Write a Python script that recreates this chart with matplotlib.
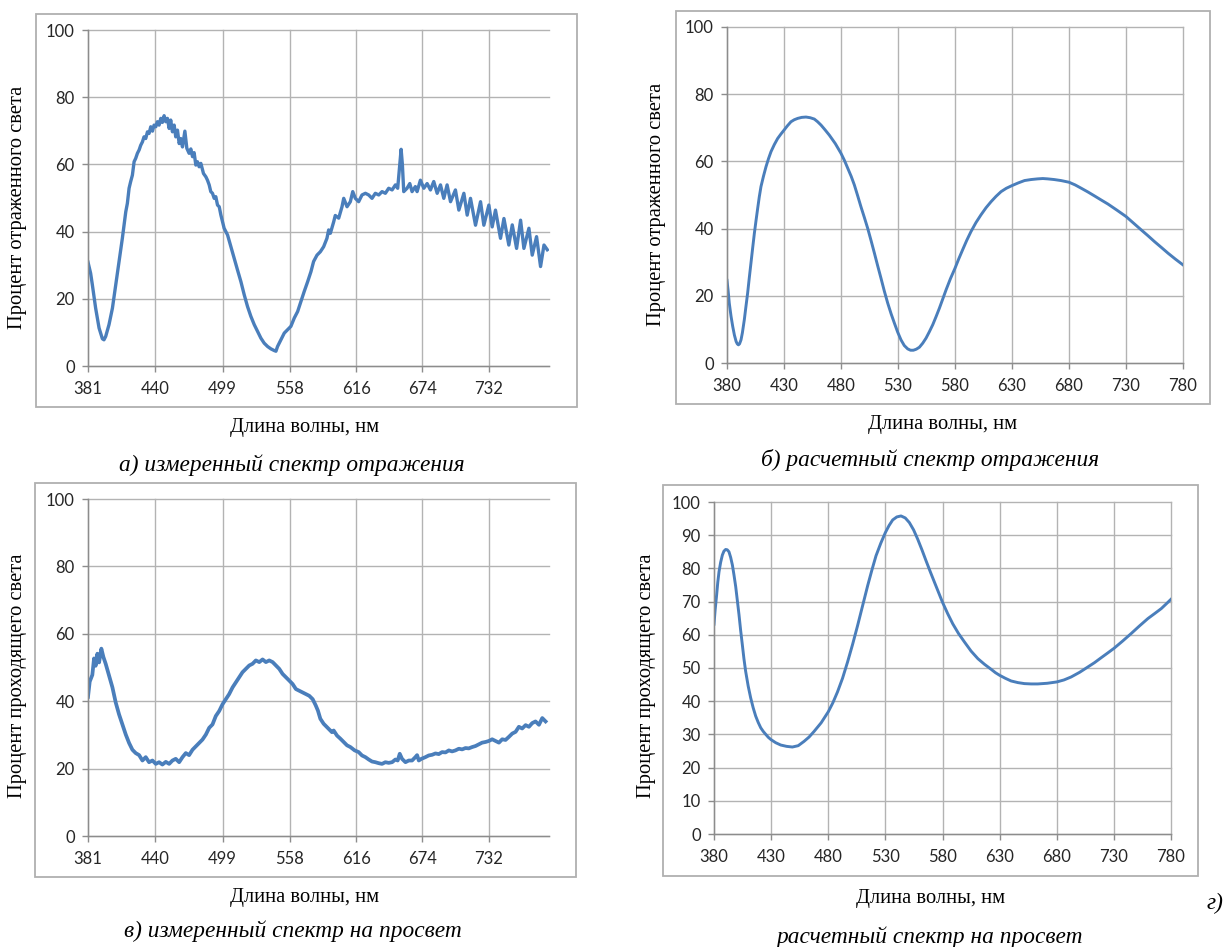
import matplotlib
matplotlib.use("Agg")
import matplotlib.pyplot as plt
from matplotlib.patches import Rectangle

# ---------------- data ----------------
# а) measured reflection spectrum
wl_refl_meas = [381.0, 383.3, 384.8, 387.7, 390.7, 393.6, 395.0, 396.5, 399.4, 402.4,
                405.3, 408.2, 411.1, 414.1, 415.5, 417.0, 418.4, 419.9, 421.4, 422.8,
                424.3, 425.8, 427.2, 428.7, 430.1, 431.6, 433.1, 434.5, 436.0, 437.5,
                438.9, 440.4, 441.8, 443.3, 444.8, 446.2, 447.7, 449.2, 450.6, 452.1,
                453.5, 455.0, 456.5, 457.9, 459.4, 460.9, 462.3, 463.8, 465.9, 467.6,
                469.6, 471.1, 472.6, 474.0, 475.5, 476.9, 478.4, 479.9, 482.2, 484.3,
                485.7, 487.2, 488.6, 490.1, 491.6, 493.0, 494.5, 496.0, 497.4, 498.9,
                500.3, 503.3, 506.2, 509.1, 512.0, 515.0, 517.9, 520.8, 523.7, 526.7,
                529.6, 532.5, 535.4, 538.4, 541.3, 544.2, 545.7, 547.1, 550.1, 553.0,
                555.9, 558.8, 561.8, 564.7, 567.6, 570.5, 573.5, 576.4, 578.7, 581.7,
                584.6, 587.5, 590.4, 591.9, 593.4, 596.3, 597.7, 600.7, 603.6, 605.1,
                608.0, 610.9, 613.0, 615.3, 618.2, 621.1, 624.1, 627.0, 629.9, 632.8,
                635.8, 638.7, 641.6, 644.5, 647.5, 650.4, 652.4, 654.2, 655.4, 656.5,
                657.7, 660.6, 663.0, 665.0, 667.9, 669.4, 672.3, 675.3, 678.2, 681.1,
                684.0, 687.0, 689.9, 692.8, 695.7, 698.7, 703.0, 706.0, 710.4, 713.3,
                716.2, 720.6, 725.0, 727.9, 732.3, 735.2, 738.1, 742.5, 745.5, 749.8,
                752.8, 756.6, 760.1, 763.0, 767.4, 770.3, 774.1, 777.6, 780.6, 783.5]
refl_meas = [30.9, 27.6, 24.2, 17.2, 11.3, 8.1, 7.8, 8.8, 12.3, 17.2,
             24.2, 31.1, 38.0, 45.9, 48.4, 52.9, 54.9, 56.8, 60.8, 61.8,
             63.3, 64.3, 65.7, 66.7, 68.2, 67.7, 69.7, 69.2, 71.2, 69.9,
             71.7, 71.2, 72.7, 71.7, 73.7, 72.5, 74.5, 72.7, 73.7, 70.7,
             73.2, 69.7, 71.7, 68.2, 70.2, 66.2, 67.7, 65.2, 69.9, 64.8,
             63.3, 64.6, 62.3, 63.5, 59.8, 60.8, 59.3, 60.3, 57.3, 56.3,
             55.3, 53.9, 51.9, 51.4, 49.9, 50.4, 47.9, 47.4, 45.0, 43.0,
             41.0, 39.0, 35.5, 32.1, 28.6, 25.1, 21.2, 17.7, 14.8, 12.3,
             10.3, 8.3, 6.8, 5.8, 5.1, 4.6, 4.4, 5.8, 7.8, 9.8,
             10.8, 11.8, 14.3, 16.2, 19.2, 22.2, 25.1, 28.1, 31.1, 33.0,
             34.0, 35.5, 38.0, 40.5, 39.5, 42.9, 44.8, 44.0, 47.4, 49.9,
             47.4, 48.9, 51.9, 49.9, 48.9, 50.9, 51.4, 50.9, 49.9, 51.4,
             50.9, 51.9, 51.4, 52.9, 52.4, 53.9, 52.9, 60.0, 64.5, 60.0,
             51.9, 52.9, 54.3, 51.9, 53.4, 51.9, 55.3, 52.9, 54.3, 52.4,
             54.9, 51.4, 53.9, 49.9, 53.9, 48.9, 52.4, 46.4, 51.4, 44.9,
             49.9, 41.9, 48.9, 41.9, 47.9, 41.4, 46.4, 38.0, 43.9, 36.0,
             42.0, 35.0, 43.4, 35.0, 41.0, 33.0, 38.5, 29.6, 36.0, 34.6]

# б) calculated reflection spectrum
wl_refl_calc = [380, 381, 382, 383.5, 385, 386.5, 388, 389, 390, 391,
                392.3, 393.5, 395.2, 396.5, 398.1, 399.5, 401, 402.5, 404, 405.5,
                406.9, 408.3, 409.8, 412, 414.2, 416.4, 418.6, 421.5, 424.4, 427.2,
                430, 433, 436.1, 439, 442, 445.5, 449.3, 453, 456.6, 459.5,
                462.5, 466, 469.8, 475, 480, 483, 486, 489, 491.7, 494.6,
                497.5, 500.5, 503.4, 506.4, 509.3, 512.2, 515.1, 518, 521, 524,
                526.8, 529.7, 532.6, 535.5, 538.5, 541, 543.5, 546, 548.8, 551.7,
                554.6, 557.5, 560.5, 563.4, 566.3, 569.2, 572.2, 576, 580, 583.3,
                586.7, 590.3, 594, 598.4, 602.8, 607.2, 611.6, 616, 620.4, 625,
                630, 635.5, 641, 646.7, 652.5, 657, 661.3, 667, 673, 680,
                685.4, 690.8, 696.6, 702.5, 708.3, 714.2, 722, 730, 736.7, 743.4,
                749.2, 755.1, 761, 766.8, 773.4, 780]
refl_calc = [24.6, 21.5, 17.8, 14.0, 10.9, 8.3, 6.4, 5.7, 5.4, 5.7,
             6.9, 9.0, 12.9, 16.5, 20.8, 25.2, 29.7, 34.2, 38.6, 42.5,
             46.0, 49.4, 52.5, 55.6, 58.4, 60.8, 62.9, 65.0, 66.8, 68.1,
             69.3, 70.6, 71.8, 72.4, 72.8, 73.1, 73.2, 73.0, 72.6, 71.8,
             70.8, 69.4, 67.8, 65.3, 62.4, 60.3, 57.9, 55.5, 53.0, 49.8,
             46.5, 43.3, 40.1, 36.4, 32.7, 28.9, 25.2, 21.4, 17.8, 14.6,
             11.9, 9.2, 6.9, 5.2, 4.2, 3.8, 3.8, 4.1, 4.7, 5.9,
             7.4, 9.3, 11.4, 13.8, 16.3, 19.0, 21.8, 25.1, 28.2, 31.0,
             33.7, 36.5, 39.1, 41.8, 44.1, 46.2, 48.0, 49.6, 51.0, 52.0,
             52.8, 53.6, 54.3, 54.6, 54.8, 54.9, 54.8, 54.6, 54.3, 53.8,
             53.0, 52.0, 50.9, 49.7, 48.5, 47.3, 45.5, 43.6, 41.6, 39.6,
             37.9, 36.1, 34.4, 32.7, 30.9, 29.2]

# в) measured transmission spectrum
wl_tran_meas = [381.0, 382.5, 384.8, 386.3, 387.7, 389.2, 390.7, 392.7, 394.5, 396.5,
                399.4, 402.4, 405.3, 408.2, 411.1, 414.1, 417.0, 419.9, 422.8, 425.8,
                428.7, 431.6, 434.5, 437.5, 440.4, 443.3, 446.2, 449.2, 452.1, 455.0,
                457.9, 460.9, 463.8, 466.7, 469.6, 472.6, 475.5, 478.4, 481.3, 484.3,
                487.2, 490.1, 493.0, 496.0, 498.9, 501.8, 504.7, 507.7, 510.6, 513.5,
                516.4, 519.4, 522.3, 525.2, 528.1, 531.1, 534.0, 536.9, 539.8, 542.8,
                545.7, 548.6, 551.5, 554.5, 557.4, 560.3, 563.2, 566.2, 569.1, 572.0,
                574.9, 577.9, 580.5, 582.5, 584.6, 587.5, 590.4, 593.4, 594.8, 596.3,
                599.2, 602.1, 605.1, 608.0, 610.9, 614.7, 618.2, 621.1, 624.1, 627.0,
                629.9, 632.8, 635.8, 638.7, 641.6, 644.5, 647.5, 650.4, 652.4, 654.2,
                656.2, 659.2, 662.1, 665.0, 667.9, 669.4, 670.9, 673.2, 676.7, 679.6,
                682.6, 685.5, 688.4, 691.3, 694.3, 697.2, 700.1, 703.0, 706.0, 708.9,
                711.8, 714.7, 717.7, 720.6, 723.5, 726.4, 729.4, 732.3, 735.2, 738.1,
                741.1, 744.0, 746.9, 749.8, 752.8, 755.7, 758.6, 761.5, 764.5, 767.4,
                770.3, 773.2, 776.2, 779.1, 782.0]
tran_meas = [41.3, 45.8, 47.8, 52.7, 50.5, 54.1, 51.5, 55.6, 53.1, 51.1,
             47.6, 44.1, 39.6, 36.1, 33.1, 30.1, 27.6, 25.6, 24.6, 24.0,
             22.4, 23.4, 21.9, 22.4, 21.4, 21.9, 21.2, 22.0, 21.4, 22.4,
             22.9, 21.9, 23.4, 24.6, 24.0, 25.6, 26.6, 27.6, 28.6, 30.1,
             32.1, 33.1, 35.6, 37.1, 39.1, 40.6, 42.1, 44.1, 45.6, 47.1,
             48.6, 49.6, 50.6, 51.1, 52.1, 51.6, 52.4, 51.6, 52.1, 51.6,
             50.6, 49.6, 48.1, 47.1, 46.1, 45.1, 43.6, 43.1, 42.6, 42.1,
             41.6, 40.6, 38.8, 37.2, 34.8, 33.3, 32.3, 31.3, 30.8, 31.3,
             29.8, 28.9, 27.9, 26.9, 26.4, 25.4, 24.9, 23.9, 23.4, 22.7,
             22.1, 21.9, 21.6, 21.4, 21.9, 21.7, 21.9, 22.7, 22.4, 24.4,
             22.9, 21.9, 22.4, 22.4, 23.4, 24.0, 22.4, 22.9, 23.4, 23.9,
             24.1, 24.5, 24.3, 24.9, 24.8, 25.4, 25.1, 25.4, 25.9, 25.7,
             26.1, 26.0, 26.4, 26.7, 27.2, 27.7, 27.9, 28.2, 28.7, 28.2,
             27.7, 28.7, 28.5, 29.4, 30.4, 30.9, 32.4, 31.9, 32.9, 32.4,
             33.5, 34.0, 33.0, 35.0, 34.0]

# г) calculated transmission spectrum
wl_tran_calc = [380, 381, 382.3, 383.3, 384.4, 385.8, 387.3, 388.7, 390.2, 391.6,
                393.1, 394.6, 396.1, 397.5, 399, 400.4, 401.9, 403.3, 404.8, 406.2,
                407.7, 409.9, 412.1, 414.3, 416.5, 418.7, 420.9, 423.1, 425.3, 427.6,
                430, 434, 438.4, 443.5, 448.6, 453.7, 458.8, 463.2, 467.6, 473.8,
                480, 484, 488.1, 492.5, 496.9, 501.3, 505.7, 510.1, 514.5, 518.2,
                521.8, 526, 530, 533.2, 536.4, 540, 543.7, 547.4, 551, 554.7,
                558.3, 562, 565.6, 569.3, 573, 576.5, 580, 584.5, 589, 594,
                599.3, 605, 611, 616.8, 622.6, 626.3, 630, 635, 640, 646,
                651.7, 657.5, 663.4, 671.7, 680, 686.3, 692.6, 700, 707.2, 713,
                718.9, 724.5, 730, 737.6, 745.2, 752.5, 759.8, 765.7, 771.5, 775.8,
                780]
tran_calc = [63.2, 67.5, 72.0, 75.8, 79.0, 81.8, 84.0, 85.2, 85.7, 85.6,
             85.0, 83.3, 81.0, 78.0, 74.5, 70.4, 66.0, 61.4, 57.0, 52.8,
             49.0, 44.6, 41.0, 38.0, 35.5, 33.6, 32.0, 30.9, 30.0, 29.1,
             28.4, 27.5, 26.8, 26.4, 26.2, 26.6, 27.9, 29.2, 30.9, 33.5,
             36.8, 39.5, 42.8, 46.9, 51.8, 57.1, 62.8, 68.8, 74.8, 79.5,
             83.8, 87.6, 90.8, 92.9, 94.6, 95.5, 95.8, 95.2, 93.8, 91.6,
             88.8, 85.6, 82.3, 79.0, 75.8, 72.8, 69.8, 66.4, 63.3, 60.4,
             57.8, 55.1, 52.8, 51.1, 49.6, 48.6, 47.8, 46.9, 46.1, 45.6,
             45.3, 45.2, 45.2, 45.4, 45.8, 46.4, 47.3, 48.7, 50.3, 51.6,
             53.1, 54.5, 55.9, 58.1, 60.4, 62.7, 64.9, 66.4, 67.9, 69.3,
             70.7]

ticks_meas = [381, 440, 499, 558, 616, 674, 732]
ticks_calc = [380, 430, 480, 530, 580, 630, 680, 730, 780]

xlabel = "Длина волны, нм"
ylabel_refl = "Процент отраженного света"
ylabel_tran = "Процент проходящего света"

# ---------------- styling ----------------
W, H = 1224, 947
LINE = "#4A7EBB"
GRID = "#B3B3B3"
AXIS = "#8C8C8C"
FRAME = "#B0B0B0"
TICKC = "#262626"
SERIF = "Liberation Serif"
SANS = "Lato"
LABEL_FS = 14.8
CAPTION_FS = 16.8
TICK_FS = 12

fig = plt.figure(figsize=(W / 100, H / 100), dpi=100)
fig.patch.set_facecolor("white")


def px_axes(x0, y0, x1, y1):
    return fig.add_axes([x0 / W, 1 - y1 / H, (x1 - x0) / W, (y1 - y0) / H])


def frame(x0, y0, x1, y1):
    fig.patches.append(Rectangle((x0 / W, 1 - y1 / H), (x1 - x0) / W, (y1 - y0) / H,
                                 transform=fig.transFigure, fill=False,
                                 edgecolor=FRAME, linewidth=1.3))


def ftext(x, y, s, **kw):
    fig.text(x / W, 1 - y / H, s, **kw)


def style(ax, xlim, xticks, yticks):
    ax.set_xlim(*xlim)
    ax.set_ylim(0, 100)
    ax.set_xticks(xticks)
    ax.set_yticks(yticks)
    ax.grid(True, color=GRID, linewidth=1.0)
    ax.set_axisbelow(True)
    for s in ("top", "right"):
        ax.spines[s].set_visible(False)
    for s in ("left", "bottom"):
        ax.spines[s].set_color(AXIS)
        ax.spines[s].set_linewidth(1.0)
    ax.tick_params(axis="both", direction="out", length=4.5, width=1.0,
                   color=AXIS, labelcolor=TICKC, labelsize=TICK_FS)
    ax.tick_params(axis="y", pad=5)
    ax.tick_params(axis="x", pad=6)
    for lab in ax.get_xticklabels() + ax.get_yticklabels():
        lab.set_fontfamily(SANS)
    for gl in ax.get_xgridlines() + ax.get_ygridlines():
        gl.set_clip_on(False)


# а)
frame(36, 14, 577, 407)
ax_a = px_axes(88, 30, 549, 366)
ax_a.plot(wl_refl_meas, refl_meas, color=LINE, linewidth=2.4, solid_joinstyle="round")
style(ax_a, (381, 785), ticks_meas, range(0, 101, 20))
ftext(18, 207, ylabel_refl, rotation=90, ha="center", va="center", family=SERIF, fontsize=LABEL_FS)
ftext(305, 427, xlabel, ha="center", va="center", family=SERIF, fontsize=LABEL_FS)
ftext(292, 465, "а) измеренный спектр отражения", ha="center", va="center",
      family=SERIF, style="italic", fontsize=CAPTION_FS)

# б)
frame(676, 11, 1210, 404)
ax_b = px_axes(727, 27, 1183, 363)
ax_b.plot(wl_refl_calc, refl_calc, color=LINE, linewidth=2.1, solid_joinstyle="round")
style(ax_b, (380, 780), ticks_calc, range(0, 101, 20))
ftext(657, 204, ylabel_refl, rotation=90, ha="center", va="center", family=SERIF, fontsize=LABEL_FS)
ftext(943, 425, xlabel, ha="center", va="center", family=SERIF, fontsize=LABEL_FS)
ftext(930, 460, "б) расчетный спектр отражения", ha="center", va="center",
      family=SERIF, style="italic", fontsize=CAPTION_FS)

# в)
frame(35, 483, 576, 877)
ax_c = px_axes(88, 499, 549, 836)
ax_c.plot(wl_tran_meas, tran_meas, color=LINE, linewidth=2.7, solid_joinstyle="round")
style(ax_c, (381, 785), ticks_meas, range(0, 101, 20))
ftext(18, 676, ylabel_tran, rotation=90, ha="center", va="center", family=SERIF, fontsize=LABEL_FS)
ftext(305, 897, xlabel, ha="center", va="center", family=SERIF, fontsize=LABEL_FS)
ftext(293, 931, "в) измеренный спектр на просвет", ha="center", va="center",
      family=SERIF, style="italic", fontsize=CAPTION_FS)

# г)
frame(663, 485, 1198, 876)
ax_d = px_axes(714, 502, 1171, 834)
ax_d.plot(wl_tran_calc, tran_calc, color=LINE, linewidth=2.1, solid_joinstyle="round")
style(ax_d, (380, 780), ticks_calc, range(0, 101, 10))
ftext(646, 676, ylabel_tran, rotation=90, ha="center", va="center", family=SERIF, fontsize=LABEL_FS)
ftext(931, 898, xlabel, ha="center", va="center", family=SERIF, fontsize=LABEL_FS)
ftext(1207, 903, "г)", ha="left", va="center", family=SERIF, style="italic", fontsize=CAPTION_FS)
ftext(930, 937, "расчетный спектр на просвет", ha="center", va="center",
      family=SERIF, style="italic", fontsize=CAPTION_FS)

fig.savefig("out.png", dpi=100, facecolor="white")
